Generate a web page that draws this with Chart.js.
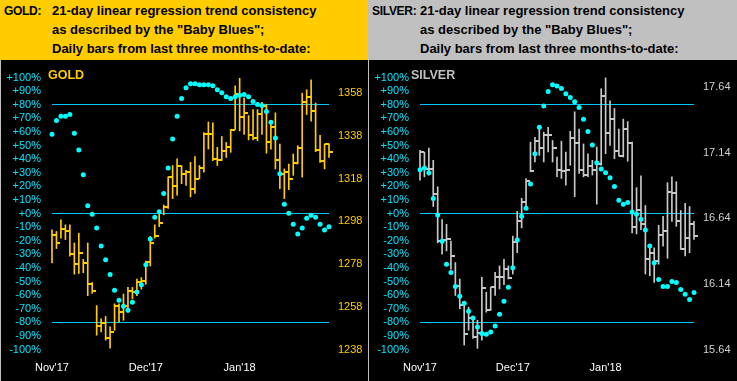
<!DOCTYPE html>
<html><head><meta charset="utf-8">
<script src="https://cdn.jsdelivr.net/npm/chart.js@4.4.1/dist/chart.umd.min.js"></script>
<style>
html,body{margin:0;padding:0;width:737px;height:381px;overflow:hidden;background:#c0c0c0;}
.hdr{position:absolute;top:0;height:60px;font:bold 13px "Liberation Sans",Arial,sans-serif;color:#000;}
.hdr div{position:absolute;white-space:nowrap;line-height:15px;}
.hdr div.nm{font-size:12px;letter-spacing:-0.3px;top:3.5px;}
.plot{position:absolute;top:60px;height:321px;background:#000;}
.plot canvas{position:absolute;left:0;top:0;}
.tag{position:absolute;font:bold 12.5px "Liberation Sans",Arial,sans-serif;line-height:15px;white-space:nowrap;}
</style></head>
<body>
<div class="hdr" style="left:0;width:368px;background:#ffcc00">
 <div class="nm" style="left:4px">GOLD:</div>
 <div style="left:52px;top:3px">21-day linear regression trend consistency</div>
 <div style="left:52px;top:22px">as described by the "Baby Blues";</div>
 <div style="left:52px;top:41px">Daily bars from last three months-to-date:</div>
</div>
<div class="hdr" style="left:369px;width:368px;background:#c0c0c0">
 <div class="nm" style="left:3px">SILVER:</div>
 <div style="left:51px;top:3px">21-day linear regression trend consistency</div>
 <div style="left:51px;top:22px">as described by the "Baby Blues";</div>
 <div style="left:51px;top:41px">Daily bars from last three months-to-date:</div>
</div>
<div class="plot" style="left:1px;width:367px"><canvas id="gold" width="367" height="321"></canvas></div>
<div class="plot" style="left:369px;width:368px"><canvas id="silver" width="368" height="321"></canvas></div>
<div class="tag" style="left:48px;top:68px;color:#ffcc00">GOLD</div>
<div class="tag" style="left:411px;top:68px;color:#c0c0c0">SILVER</div>
<script>
const dates = [
 "2017-11-01","2017-11-02","2017-11-03","2017-11-06","2017-11-07","2017-11-08","2017-11-09","2017-11-10",
 "2017-11-13","2017-11-14","2017-11-15","2017-11-16","2017-11-17","2017-11-20","2017-11-21","2017-11-22",
 "2017-11-24","2017-11-27","2017-11-28","2017-11-29","2017-11-30",
 "2017-12-01","2017-12-04","2017-12-05","2017-12-06","2017-12-07","2017-12-08","2017-12-11","2017-12-12",
 "2017-12-13","2017-12-14","2017-12-15","2017-12-18","2017-12-19","2017-12-20","2017-12-21","2017-12-22",
 "2017-12-25","2017-12-26","2017-12-27","2017-12-28","2017-12-29",
 "2018-01-02","2018-01-03","2018-01-04","2018-01-05","2018-01-08","2018-01-09","2018-01-10","2018-01-11",
 "2018-01-12","2018-01-15","2018-01-16","2018-01-17","2018-01-18","2018-01-19","2018-01-22","2018-01-23",
 "2018-01-24","2018-01-25","2018-01-26","2018-01-29","2018-01-30"
];
const monthTickIndex = [0, 21, 42];
const monthTickLabels = ["Nov'17", "Dec'17", "Jan'18"];
const goldPriceTicks = [1238, 1258, 1278, 1298, 1318, 1338, 1358];
const silverPriceTicks = [15.64, 16.14, 16.64, 17.14, 17.64];

const goldHigh = [1294.1,1293.3,1298.7,1296.4,1296.4,1287.9,1292.5,1280.2,1287.9,1269.4,
 1258.6,1252.4,1253.5,1248.6,1259.4,1259.4,1264.0,1267.1,1267.1,1271.0,
 1271.7,1279.4,1291.0,1296.4,1302.6,1305.7,1318.8,1324.2,1327.3,1324.2,
 1321.9,1325.7,1328.4,1324.2,1339.6,1344.6,1344.2,1332.7,1337.8,1335.0,
 1341.1,1361.5,1365.1,1355.8,1347.6,1350.4,1350.4,1353.8,1352.7,1344.2,
 1348.9,1334.2,1322.6,1324.9,1329.6,1333.5,1358.1,1359.7,1364.3,1353.5,
 1338.4,1334.2,1334.2];
const goldLow = [1278.6,1285.3,1290.2,1289.5,1281.7,1273.3,1273.6,1274.0,1263.2,1264.3,
 1244.7,1246.2,1242.4,1238.6,1247.0,1250.9,1251.7,1255.5,1261.7,1263.2,
 1266.3,1268.6,1277.1,1290.2,1295.6,1301.1,1304.1,1308.7,1310.3,1315.7,
 1314.9,1309.5,1311.1,1318.0,1321.1,1331.9,1326.5,1324.2,1326.5,1328.0,
 1330.4,1341.1,1340.4,1338.8,1336.2,1336.2,1335.8,1338.8,1330.0,1331.9,
 1322.6,1313.4,1308.7,1312.9,1319.6,1324.9,1318.8,1348.1,1345.0,1330.7,
 1325.7,1322.6,1328.0];
const goldClose = [1291.8,1287.9,1294.6,1293.6,1282.8,1277.9,1283.3,1278.6,1268.9,1265.5,
 1249.0,1250.4,1243.5,1246.1,1258.6,1255.5,1258.3,1265.5,1265.1,1269.4,
 1269.9,1279.1,1287.9,1291.3,1297.2,1304.9,1318.8,1314.5,1323.9,1320.3,
 1321.1,1313.4,1317.7,1323.1,1338.8,1338.8,1327.3,1326.8,1330.8,1333.1,
 1340.7,1357.8,1346.9,1348.6,1338.4,1337.3,1348.4,1352.3,1335.3,1342.3,
 1327.0,1320.3,1321.1,1318.0,1325.3,1332.3,1353.8,1356.1,1349.7,1331.4,
 1326.3,1334.1,1330.7];
const goldBlues = [58.4,68.4,71.5,71.5,72.9,59.1,46.8,28.6,5.8,-0.5,
 -10.7,-23.8,-34.0,-44.9,-56.5,-63.8,-68.1,-71.1,-65.2,-57.7,
 -52.4,-37.6,-18.7,-2.7,1.3,14.8,33.5,54.8,71.5,84.6,
 92.6,95.5,95.5,94.8,94.8,94.8,94.0,91.1,88.9,86.0,
 84.6,86.0,87.1,87.5,86.0,82.4,80.2,79.5,75.1,67.1,
 55.5,29.3,6.8,0.2,-7.8,-15.1,-10.7,-3.4,-1.2,-2.7,
 -7.8,-12.1,-9.7];

const silverHigh = [17.160,17.147,17.177,17.084,16.882,16.631,16.595,16.467,16.303,16.178,
 15.989,15.963,15.893,15.863,16.190,16.077,16.114,16.228,16.278,16.329,
 16.278,16.505,16.694,16.794,16.945,17.222,17.260,17.336,17.298,17.336,
 17.235,17.109,17.230,17.147,17.305,17.454,17.323,17.209,17.134,17.084,
 17.185,17.630,17.713,17.537,17.479,17.323,17.398,17.379,17.222,16.875,
 16.966,16.739,16.416,16.416,16.588,16.656,16.913,16.958,16.920,16.701,
 16.756,16.731,16.618];
const silverLow = [16.933,16.958,16.971,16.731,16.454,16.367,16.392,16.253,16.052,15.951,
 15.674,15.787,15.725,15.649,15.712,15.925,15.938,16.052,16.102,16.135,
 16.178,16.216,16.379,16.568,16.719,16.996,17.071,17.122,17.071,17.147,
 17.071,16.958,16.945,16.895,17.046,16.807,16.983,16.958,16.958,16.971,
 16.749,17.046,17.134,17.197,17.096,17.117,17.109,17.077,16.530,16.522,
 16.555,16.216,16.203,16.152,16.291,16.429,16.336,16.618,16.580,16.404,
 16.354,16.379,16.480];
const silverClose = [17.147,17.021,17.021,16.824,16.467,16.472,16.487,16.354,16.122,15.976,
 15.762,15.883,15.732,15.767,16.110,15.938,16.114,16.190,16.195,16.253,
 16.182,16.462,16.618,16.769,16.928,17.001,17.230,17.177,17.277,17.277,
 17.179,17.009,17.001,17.013,17.252,17.217,17.013,16.971,17.039,17.013,
 17.058,17.572,17.293,17.398,17.152,17.117,17.323,17.217,16.573,16.703,
 16.598,16.333,16.379,16.316,16.512,16.548,16.839,16.832,16.618,16.404,
 16.492,16.598,16.505];
const silverBlues = [32.2,33.5,30.0,11.1,-1.1,-20.4,-37.3,-43.4,-53.6,-60.9,
 -66.0,-71.8,-76.9,-83.4,-88.2,-88.7,-87.1,-82.7,-74.0,-64.5,
 -54.3,-39.8,-19.4,-2.0,3.9,21.8,43.9,63.5,79.1,89.7,
 94.8,93.8,91.9,88.2,85.3,82.2,78.0,69.3,60.4,50.4,
 37.3,32.7,30.0,26.4,19.9,9.7,6.8,8.2,1.2,-0.5,
 -4.2,-12.1,-23.8,-36.1,-48.5,-53.6,-53.6,-50.0,-50.7,-55.8,
 -59.4,-63.3,-58.0];

const FONT = {family: "'Liberation Sans', Arial, sans-serif", size: 11};

function makeChart(id, cfg) {
  const tickImg = document.createElement('canvas');
  tickImg.width = 8; tickImg.height = 2;
  const c = tickImg.getContext('2d');
  c.fillStyle = cfg.barColor; c.fillRect(4, 0, 4, 2);
  return new Chart(document.getElementById(id), {
    type: 'bar',
    data: {
      labels: dates,
      datasets: [
        {type: 'line', label: 'Baby Blues', data: cfg.blues, yAxisID: 'yPct', showLine: false,
         pointRadius: 2.5, pointBackgroundColor: '#00ffff', pointBorderWidth: 0, order: 0, clip: false},
        {type: 'line', label: 'Close', data: cfg.close, yAxisID: 'yPrice', showLine: false,
         pointStyle: tickImg, pointRadius: 3, order: 1, clip: false},
        {type: 'bar', label: 'High-Low', data: cfg.low.map((l, i) => [l, cfg.high[i]]), yAxisID: 'yPrice',
         backgroundColor: cfg.barColor, barThickness: 1, borderWidth: 0, order: 2, clip: false}
      ]
    },
    options: {
      responsive: false, animation: false, events: [],
      layout: {padding: {top: 14.5, left: 0, right: 0, bottom: 0}},
      plugins: {legend: {display: false}, tooltip: {enabled: false}},
      scales: {
        x: {type: 'category', offset: false,
            grid: {display: false, drawTicks: false}, border: {display: false},
            ticks: {autoSkip: false, maxRotation: 0, minRotation: 0, color: '#ffffff', font: FONT, padding: 12,
              callback: (v, i) => { const k = monthTickIndex.indexOf(i); return k >= 0 ? monthTickLabels[k] : ''; }},
            afterFit: s => { s.height = 31.5; }},
        yPct: {position: 'left', min: -100, max: 100,
            ticks: {stepSize: 10, autoSkip: false, color: '#00e5ff', font: FONT, padding: 11,
              callback: v => (v >= 0 ? '+' : '') + v + '%'},
            grid: {drawTicks: false, lineWidth: 1,
              color: ctx => ([80, 0, -80].includes(ctx.tick.value) ? '#00c8ff' : 'rgba(0,0,0,0)')},
            border: {display: false},
            afterFit: s => { s.width = cfg.leftW; }},
        yPrice: {position: 'right', min: cfg.min, max: cfg.max,
            grid: {display: false, drawTicks: false}, border: {display: false},
            afterBuildTicks: s => { s.ticks = cfg.priceTicks.map(v => ({value: v})); },
            ticks: {autoSkip: false, color: cfg.priceColor, font: FONT, padding: 9, callback: v => cfg.fmt(v)},
            afterFit: s => { s.width = cfg.rightW; }}
      }
    }
  });
}

makeChart('gold', {high: goldHigh, low: goldLow, close: goldClose, blues: goldBlues,
  barColor: '#ffcc00', priceColor: '#ffcc00', priceTicks: goldPriceTicks,
  min: 1238, max: 1365.4, leftW: 51, rightW: 39, fmt: v => String(Math.round(v))});
makeChart('silver', {high: silverHigh, low: silverLow, close: silverClose, blues: silverBlues,
  barColor: '#c8c8c8', priceColor: '#d0d0d0', priceTicks: silverPriceTicks,
  min: 15.64, max: 17.715, leftW: 51, rightW: 43, fmt: v => v.toFixed(2)});
</script>
</body></html>
